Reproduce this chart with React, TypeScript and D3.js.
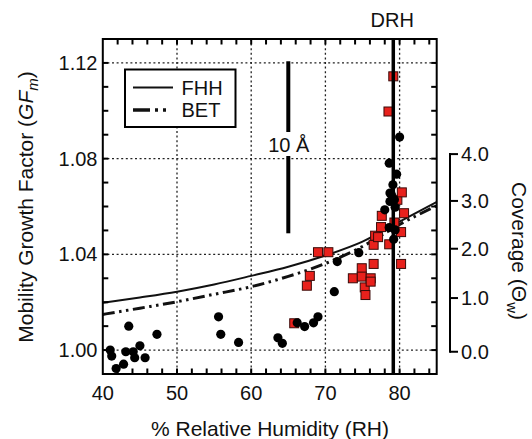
import { useEffect, useRef } from 'react';
import * as d3 from 'd3';

// black circles
const circleRH = [41.0, 41.2, 41.8, 42.8, 43.1, 43.5, 44.1, 44.3, 45.0, 45.7, 47.3, 55.6, 55.9, 58.3, 63.6, 64.2, 66.2, 67.2, 68.4, 69.0, 71.2, 71.6, 74.5, 78.0, 78.6, 78.7, 78.9, 79.1, 79.6, 80.0, 79.4, 78.6, 79.2, 79.3, 78.7, 79.4];
const circleGF = [1.0000, 0.9975, 0.9923, 0.9941, 0.9993, 1.0100, 0.9993, 0.9968, 1.0018, 0.9968, 1.0066, 1.0139, 1.0066, 1.0032, 1.0051, 1.0028, 1.0114, 1.0098, 1.0114, 1.0139, 1.0244, 1.0370, 1.0407, 1.0586, 1.0781, 1.0621, 1.0649, 1.0691, 1.0735, 1.0890, 1.0597, 1.0512, 1.0463, 1.0628, 1.0656, 1.0502];

// red squares
const squareRH = [65.8, 67.5, 67.9, 69.0, 70.4, 73.7, 74.9, 74.9, 75.3, 75.4, 76.1, 76.1, 76.5, 76.5, 76.7, 77.1, 77.5, 77.6, 78.6, 78.5, 79.15, 79.3, 79.7, 80.3, 80.2, 80.2, 80.6];
const squareGF = [1.0112, 1.0269, 1.0310, 1.0409, 1.0409, 1.0300, 1.0342, 1.0307, 1.0262, 1.0230, 1.0300, 1.0286, 1.0360, 1.0440, 1.0478, 1.0472, 1.0514, 1.0561, 1.0442, 1.0997, 1.1144, 1.0533, 1.0628, 1.0659, 1.0493, 1.0360, 1.0572];

// model curves
const curveRH = [40, 45, 50, 55, 60, 65, 70, 75, 80, 85];
const fhhGF = [1.0198, 1.0220, 1.0244, 1.0274, 1.0310, 1.0348, 1.0395, 1.0453, 1.0537, 1.0619];
const betGF = [1.0149, 1.0175, 1.0202, 1.0233, 1.0265, 1.0308, 1.0362, 1.0433, 1.0525, 1.0603];

const xTicks = [40, 50, 60, 70, 80];
const yTicks = [1.00, 1.04, 1.08, 1.12];
const coverageTicks = [0, 1, 2, 3, 4];
const coverageGFRange = [0.9993, 1.0819];

const drhRH = 79.15;
const scaleBarRH = 65;
const scaleBarGF = [1.0488, 1.1207];

const FONT = '"Liberation Sans", Arial, sans-serif';
const INK = '#111';

const renderChart = (node: SVGSVGElement) => {
    const svg = d3.select(node);
    svg.selectAll('*').remove();

    const left = 102.8, right = 436.7, top = 39, bottom = 374;

    const x = d3.scaleLinear().domain([40, 85]).range([left, right]);
    const y = d3.scaleLinear().domain([0.99, 1.13]).range([bottom, top]);
    const yCov = d3.scalePow().exponent(0.94).domain([0, 4])
        .range([y(coverageGFRange[0]), y(coverageGFRange[1])]);

    // grid
    const grid = svg.append('g')
        .attr('stroke', '#222')
        .attr('stroke-width', 1.3)
        .attr('stroke-dasharray', '2,2.6');
    grid.selectAll('.gx').data(xTicks.filter(t => t > 40)).enter().append('line')
        .attr('x1', d => x(d)).attr('x2', d => x(d))
        .attr('y1', top).attr('y2', bottom);
    grid.selectAll('.gy').data(yTicks).enter().append('line')
        .attr('x1', left).attr('x2', right)
        .attr('y1', d => y(d)).attr('y2', d => y(d));

    // model curves
    const line = d3.line<number>().curve(d3.curveMonotoneX);
    const fhhPts = curveRH.map((r, i) => [x(r), y(fhhGF[i])] as [number, number]);
    const betPts = curveRH.map((r, i) => [x(r), y(betGF[i])] as [number, number]);
    svg.append('path')
        .attr('d', d3.line().curve(d3.curveMonotoneX)(fhhPts))
        .attr('fill', 'none').attr('stroke', INK).attr('stroke-width', 2);
    svg.append('path')
        .attr('d', d3.line().curve(d3.curveMonotoneX)(betPts))
        .attr('fill', 'none').attr('stroke', INK).attr('stroke-width', 3)
        .attr('stroke-dasharray', '12,4.5,2.5,4.5,2.5,4.5');
    void line;

    // red squares
    const sq = 9;
    svg.append('g').selectAll('rect')
        .data(squareRH.map((r, i) => [r, squareGF[i]]))
        .enter().append('rect')
        .attr('x', d => x(d[0]) - sq / 2)
        .attr('y', d => y(d[1]) - sq / 2)
        .attr('width', sq).attr('height', sq)
        .attr('fill', '#e8211c')
        .attr('stroke', '#3a0a08')
        .attr('stroke-width', 1);

    // black circles
    svg.append('g').selectAll('circle')
        .data(circleRH.map((r, i) => [r, circleGF[i]]))
        .enter().append('circle')
        .attr('cx', d => x(d[0]))
        .attr('cy', d => y(d[1]))
        .attr('r', 4.6)
        .attr('fill', '#000');

    // DRH line
    svg.append('line')
        .attr('x1', x(drhRH)).attr('x2', x(drhRH))
        .attr('y1', top).attr('y2', bottom)
        .attr('stroke', '#000').attr('stroke-width', 3.5);
    svg.append('text')
        .attr('x', x(drhRH) - 1).attr('y', 27)
        .attr('text-anchor', 'middle')
        .style('font-family', FONT).style('font-size', '20px').attr('fill', INK)
        .text('DRH');

    // 10 Å scale bar
    const labelY = 145;
    svg.append('line')
        .attr('x1', x(scaleBarRH)).attr('x2', x(scaleBarRH))
        .attr('y1', y(scaleBarGF[1])).attr('y2', labelY - 13)
        .attr('stroke', '#000').attr('stroke-width', 4);
    svg.append('line')
        .attr('x1', x(scaleBarRH)).attr('x2', x(scaleBarRH))
        .attr('y1', labelY + 11).attr('y2', y(scaleBarGF[0]))
        .attr('stroke', '#000').attr('stroke-width', 4);
    svg.append('text')
        .attr('x', x(scaleBarRH) + 0.5).attr('y', labelY + 7)
        .attr('text-anchor', 'middle')
        .style('font-family', FONT).style('font-size', '20px').attr('fill', INK)
        .text('10 Å');

    // frame
    svg.append('rect')
        .attr('x', left).attr('y', top)
        .attr('width', right - left).attr('height', bottom - top)
        .attr('fill', 'none').attr('stroke', '#000').attr('stroke-width', 2);

    // inward ticks
    const ticks = svg.append('g').attr('stroke', '#000').attr('stroke-width', 2);
    const xMinor = d3.range(42, 85, 2);
    ticks.selectAll('.tb').data(xMinor).enter().append('line')
        .attr('x1', d => x(d)).attr('x2', d => x(d))
        .attr('y1', bottom).attr('y2', bottom - 5.5);
    ticks.selectAll('.tt').data(xMinor).enter().append('line')
        .attr('x1', d => x(d)).attr('x2', d => x(d))
        .attr('y1', top).attr('y2', top + 5.5);
    const yMinor = d3.range(1.0, 1.125, 0.01);
    ticks.selectAll('.tl').data(yMinor).enter().append('line')
        .attr('x1', left).attr('x2', left + 5.5)
        .attr('y1', d => y(d)).attr('y2', d => y(d));
    ticks.selectAll('.tr').data(yMinor).enter().append('line')
        .attr('x1', right).attr('x2', right - 5.5)
        .attr('y1', d => y(d)).attr('y2', d => y(d));

    // tick labels
    svg.append('g').selectAll('text').data(xTicks).enter().append('text')
        .attr('x', d => x(d)).attr('y', 400)
        .attr('text-anchor', 'middle')
        .style('font-family', FONT).style('font-size', '20px').attr('fill', INK)
        .text(d => d);
    svg.append('g').selectAll('text').data(yTicks).enter().append('text')
        .attr('x', 97.5).attr('y', d => y(d) + 7)
        .attr('text-anchor', 'end')
        .style('font-family', FONT).style('font-size', '20px').attr('fill', INK)
        .text(d => d3.format('.2f')(d));

    // coverage axis
    const covX = 450;
    const cov = svg.append('g');
    cov.append('line')
        .attr('x1', covX).attr('x2', covX)
        .attr('y1', yCov(4) - 1).attr('y2', yCov(0) + 1)
        .attr('stroke', '#000').attr('stroke-width', 2);
    cov.selectAll('.ct').data(coverageTicks).enter().append('line')
        .attr('x1', covX).attr('x2', covX + 8)
        .attr('y1', d => yCov(d)).attr('y2', d => yCov(d))
        .attr('stroke', '#000').attr('stroke-width', 2);
    cov.selectAll('text').data(coverageTicks).enter().append('text')
        .attr('x', covX + 11).attr('y', d => yCov(d) + 7)
        .style('font-family', FONT).style('font-size', '20px').attr('fill', INK)
        .text(d => d3.format('.1f')(d));

    // legend
    const lg = svg.append('g');
    lg.append('rect')
        .attr('x', 125).attr('y', 69.5).attr('width', 110.5).attr('height', 57.5)
        .attr('fill', '#fff').attr('stroke', '#000').attr('stroke-width', 2);
    lg.append('line')
        .attr('x1', 133).attr('x2', 173).attr('y1', 87.5).attr('y2', 87.5)
        .attr('stroke', INK).attr('stroke-width', 2);
    lg.append('line')
        .attr('x1', 133).attr('x2', 170).attr('y1', 110).attr('y2', 110)
        .attr('stroke', INK).attr('stroke-width', 3.5)
        .attr('stroke-dasharray', '17,5,3,5,3,20');
    lg.append('text').attr('x', 181.5).attr('y', 94.5)
        .style('font-family', FONT).style('font-size', '20px').attr('fill', INK)
        .text('FHH');
    lg.append('text').attr('x', 181.5).attr('y', 117)
        .style('font-family', FONT).style('font-size', '20px').attr('fill', INK)
        .text('BET');

    // axis titles
    svg.append('text')
        .attr('x', 270).attr('y', 436)
        .attr('text-anchor', 'middle')
        .style('font-family', FONT).style('font-size', '21px').attr('fill', INK)
        .text('% Relative Humidity (RH)');

    const yl = svg.append('text')
        .attr('transform', 'translate(33,207) rotate(-90)')
        .attr('text-anchor', 'middle')
        .style('font-family', FONT).style('font-size', '21px').attr('fill', INK);
    yl.append('tspan').text('Mobility Growth Factor (');
    yl.append('tspan').style('font-style', 'italic').text('GF');
    yl.append('tspan').style('font-style', 'italic').style('font-size', '15px').attr('dy', 5).text('m');
    yl.append('tspan').attr('dy', -5).text(')');

    const rl = svg.append('text')
        .attr('transform', 'translate(512,251) rotate(90)')
        .attr('text-anchor', 'middle')
        .style('font-family', FONT).style('font-size', '21px').attr('fill', INK);
    rl.append('tspan').text('Coverage (Θ');
    rl.append('tspan').style('font-size', '15px').attr('dy', 5).text('w');
    rl.append('tspan').attr('dy', -5).text(')');
};

const App = () => {
    const ref = useRef<SVGSVGElement>(null);

    useEffect(() => {
        if (ref.current) renderChart(ref.current);
    }, []);

    return (
        <svg ref={ref} width={532} height={439}
            style={{ position: 'absolute', left: 0, top: 0, background: '#fff' }} />
    );
};

export default App;
